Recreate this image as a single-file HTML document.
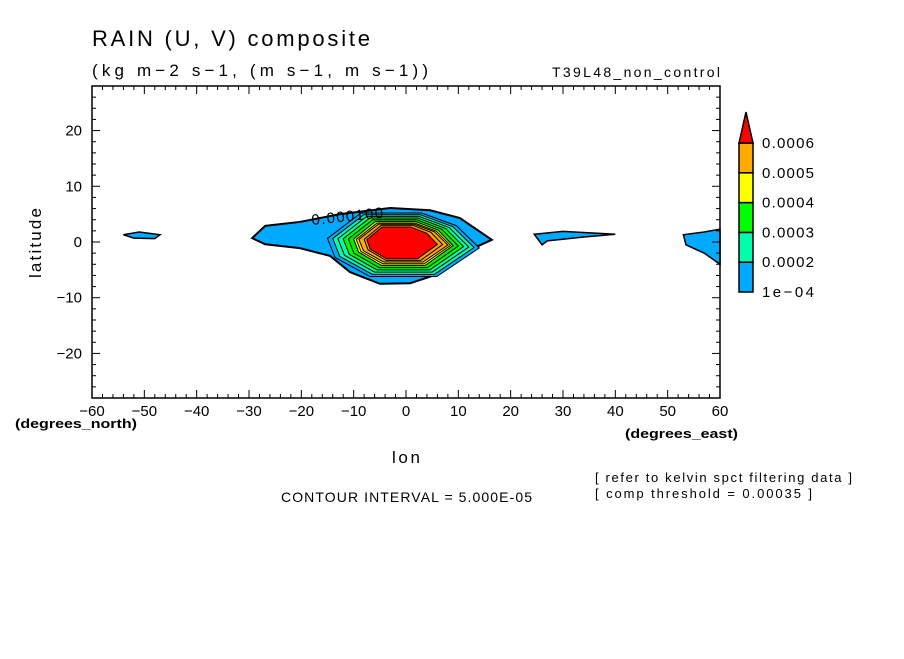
<!DOCTYPE html>
<html><head><meta charset="utf-8"><style>
body{margin:0;background:#fff;}
svg text{font-family:"Liberation Sans",sans-serif;fill:#000;}
</style></head><body>
<svg id="chart" width="904" height="654" xmlns="http://www.w3.org/2000/svg">
<text x="92" y="46" font-size="22" textLength="278" lengthAdjust="spacing">RAIN (U, V) composite</text>
<text x="92" y="76" font-size="17" textLength="336" lengthAdjust="spacing">(kg m−2 s−1, (m s−1, m s−1))</text>
<text x="552" y="77" font-size="14" textLength="168" lengthAdjust="spacing">T39L48_non_control</text>
<g id="fills"></g>
<g id="axes"></g>
<g id="cbar"></g>
<text transform="translate(41,243) rotate(-90)" font-size="17" text-anchor="middle" textLength="70" lengthAdjust="spacing">latitude</text>
<text x="392" y="463" font-size="17" textLength="28" lengthAdjust="spacing">lon</text>
<text x="15" y="428" font-size="13" font-weight="bold" textLength="122" lengthAdjust="spacingAndGlyphs">(degrees_north)</text>
<text x="625" y="438" font-size="13" font-weight="bold" textLength="113" lengthAdjust="spacingAndGlyphs">(degrees_east)</text>
<text x="281" y="502" font-size="14" textLength="251" lengthAdjust="spacing">CONTOUR INTERVAL = 5.000E-05</text>
<text x="595" y="482" font-size="13" textLength="257" lengthAdjust="spacing">[ refer to kelvin spct filtering data ]</text>
<text x="595" y="498" font-size="13" textLength="217" lengthAdjust="spacing">[ comp threshold = 0.00035 ]</text>
</svg>
<script>
const levels=[0.0001,0.00015,0.0002,0.00025,0.0003,0.00035,0.0004,0.00045,0.0005,0.00055,0.0006];
const levelColors=["#00aaff","#00aaff","#00ffaa","#00ffaa","#00ff00","#00ee00","#ffff00","#ffee00","#ffaa00","#ffa000","#ff0000"];
const lonMin=[-16,-15,-14,-13,-12,-11,-10,-9.5,-9,-8,-7.5];
const lonMax=[16,14,13,12,11,10,9,8.5,8,7,6];
const latMax=[5.6,5.2,4.9,4.6,4.3,4,3.7,3.4,3.2,3,2.7];
const latMin=[-6.8,-6.2,-5.8,-5.4,-5,-4.6,-4.2,-3.9,-3.6,-3.3,-3];
const outerLon=[-29.4,-26.9,-20.3,-12.6,-3,4.6,10.3,16.4,12.2,5,0.8,-5,-10.7,-14.5,-20.3,-26.9];
const outerLat=[0.7,2.9,3.6,5,6.1,5.7,4.3,0.4,-1.4,-6.1,-7.4,-7.5,-5.4,-2.5,-1.1,-0.4];
const blob1Lon=[-54,-51,-47,-48,-52],blob1Lat=[1.3,1.8,1.3,0.6,0.7];
const blob2Lon=[24.5,30,40,34,27,26],blob2Lat=[1.4,1.9,1.4,0.9,0.2,-0.5];
const blob3Lon=[53,57,60,60,57,53.5],blob3Lat=[1.3,1.8,2.3,-4,-2,-0.5];
const xTicks=[-60,-50,-40,-30,-20,-10,0,10,20,30,40,50,60];
const yTicks=[-20,-10,0,10,20];
const cbarLabels=["1e-04","0.0002","0.0003","0.0004","0.0005","0.0006"];
const cbarColors=["#00aaff","#00ffaa","#00ff00","#ffff00","#ffaa00"];
const X0=92,X1=720,Y0=86,Y1=398,LON0=-60,LON1=60,LAT0=-28,LAT1=28;
const sx=v=>X0+(v-LON0)/(LON1-LON0)*(X1-X0);
const sy=v=>Y1-(v-LAT0)/(LAT1-LAT0)*(Y1-Y0);
const NS="http://www.w3.org/2000/svg";
function mk(tag,attrs,parent){const e=document.createElementNS(NS,tag);for(const k in attrs)e.setAttribute(k,attrs[k]);parent.appendChild(e);return e;}
const fills=document.getElementById('fills');
function poly(lons,lats,fill,sw){const pts=lons.map((l,i)=>sx(l)+','+sy(lats[i])).join(' ');
 return mk('polygon',{points:pts,fill:fill,stroke:'#000','stroke-width':sw},fills);}
let p=poly(outerLon,outerLat,levelColors[0],2);


[[blob1Lon,blob1Lat],[blob2Lon,blob2Lat],[blob3Lon,blob3Lat]].forEach((b,i)=>{const q=poly(b[0],b[1],levelColors[0],1.5);

});
for(let k=1;k<levels.length;k++){
 const a=lonMin[k],b=lonMax[k],t=latMax[k],u=latMin[k];
 const w=b-a,h=t-u;
 const lons=[a+w*0.22,a+w*0.62,a+w*0.85,b,a+w*0.72,a+w*0.28,a+w*0.05,a];
 const lats=[t,t,t-h*0.2,u+h*0.45,u,u,u+h*0.3,t-h*0.4];
 const q=poly(lons,lats,levelColors[k],1);
 
 
}
const lbl=mk('text',{x:312,y:225,'font-size':15,transform:'rotate(-6 312 225)',textLength:72},fills);
lbl.textContent='0.000100';


const ax=document.getElementById('axes');
const frame=mk('rect',{x:X0,y:Y0,width:X1-X0,height:Y1-Y0,fill:'none',stroke:'#000','stroke-width':1.5},ax);


for(let v=LON0;v<=LON1;v+=2){const maj=v%10===0;const L=maj?8:4;
 mk('line',{x1:sx(v),x2:sx(v),y1:Y1,y2:Y1-L,stroke:'#000'},ax);
 mk('line',{x1:sx(v),x2:sx(v),y1:Y0,y2:Y0+L,stroke:'#000'},ax);}
for(let v=-28;v<=28;v+=2){const maj=v%10===0;const L=maj?8:4;
 mk('line',{x1:X0,x2:X0+L,y1:sy(v),y2:sy(v),stroke:'#000'},ax);
 mk('line',{x1:X1,x2:X1-L,y1:sy(v),y2:sy(v),stroke:'#000'},ax);}
xTicks.forEach(v=>{const t=mk('text',{x:sx(v),y:Y1+18,'font-size':15,'text-anchor':'middle'},ax);t.textContent=String(v).replace('-','−');

});
yTicks.forEach(v=>{const t=mk('text',{x:X0-10,y:sy(v)+5,'font-size':15,'text-anchor':'end'},ax);t.textContent=String(v).replace('-','−');

});
const cb=document.getElementById('cbar');
const cx=739,cw=14,cTop=143,seg=29.8;
cbarColors.forEach((c,i)=>{const r=mk('rect',{x:cx,y:cTop+(4-i)*seg,width:cw,height:seg,fill:c,stroke:'#000','stroke-width':1.5},cb);

});
const tri=mk('polygon',{points:`${cx},${cTop} ${cx+cw},${cTop} ${cx+cw/2},${cTop-31}`,fill:'#ff0000',stroke:'#000','stroke-width':1.5},cb);


cbarLabels.forEach((s,i)=>{const t=mk('text',{x:762,y:cTop+(5-i)*seg+5,'font-size':15,textLength:52},cb);t.textContent=s.replace('-','−');

});
</script>
</body></html>
